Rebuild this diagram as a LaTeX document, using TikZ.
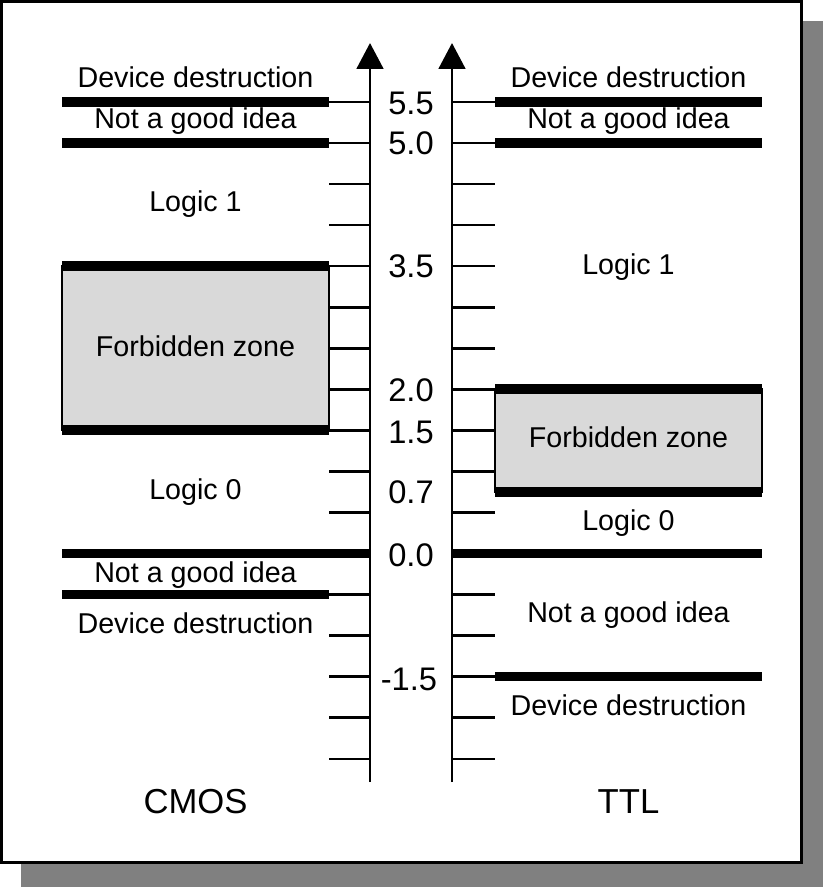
\documentclass[tikz,border=0pt]{standalone}
\usepackage{fontspec}
\setmainfont{Liberation Sans}
\usetikzlibrary{arrows.meta, positioning}

\begin{document}
\begin{tikzpicture}[
    x=0.75pt, y=-0.75pt,
    axis/.style={-{Triangle[width=20pt, length=19.5pt]}, line width=2.2pt},
    tick/.style={line width=1.9pt},
    bar/.style={line width=7pt},
    zone/.style={draw, line width=1.9pt, fill=gray!30},
    lbl/.style={anchor=base, inner sep=0pt, font=\fontsize{21.5}{24}\selectfont},
    val/.style={anchor=base, inner sep=0pt, font=\fontsize{24.5}{28}\selectfont},
    fam/.style={anchor=base, inner sep=0pt, font=\fontsize{26}{30}\selectfont}
]

\useasboundingbox (0,0) rectangle (823,887);
\fill[gray] (21,21) rectangle (823,887);
\draw[fill=white, line width=2.2pt] (1.5,1.5) rectangle (801.5,862.5);

\fill[zone] (62,266) rectangle (329,430);
\fill[zone] (495,389) rectangle (762,492);

\foreach \k in {0,...,16} {
    \draw[tick] (329,{102+41.05*\k}) -- (370,{102+41.05*\k});
    \draw[tick] (452,{102+41.05*\k}) -- (495,{102+41.05*\k});
}

\draw[bar] (62,102) -- (329,102);
\draw[bar] (62,143) -- (329,143);
\draw[bar] (62,266) -- (329,266);
\draw[bar] (62,430) -- (329,430);
\draw[bar] (62,553.6) -- (370,553.6);
\draw[bar] (62,594.6) -- (329,594.6);

\draw[bar] (495,102) -- (762,102);
\draw[bar] (495,143) -- (762,143);
\draw[bar] (495,389) -- (762,389);
\draw[bar] (495,492) -- (762,492);
\draw[bar] (452,553.6) -- (762,553.6);
\draw[bar] (495,676.7) -- (762,676.7);

\coordinate (cmosbot) at (370,782);
\coordinate (cmostop) at (370,43);
\coordinate (ttlbot) at (452,782);
\coordinate (ttltop) at (452,43);
\draw[axis] (cmosbot) -- (cmostop);
\draw[axis] (ttlbot) -- (ttltop);

\node (v55) [val] at (411,115) {5.5};
\node (v50) [val] at (411,155) {5.0};
\node (v35) [val] at (411,278) {3.5};
\node (v20) [val] at (411,401) {2.0};
\node (v15) [val] at (411,443) {1.5};
\node (v07) [val] at (411,503) {0.7};
\node (v00) [val] at (411,566) {0.0};
\node (vm15) [val] at (409,690) {-1.5};

\node (cdd) [lbl] at (195.5,88) {Device destruction};
\node (cng) [lbl] at (195.5,129) {Not a good idea};
\node (cl1) [lbl] at (195.5,212) {Logic 1};
\node (cfz) [lbl] at (195.5,356) {Forbidden zone};
\node (cl0) [lbl] at (195.5,499) {Logic 0};
\node (cngb) [lbl] at (195.5,582) {Not a good idea};
\node (cddb) [lbl] at (195.5,633) {Device destruction};

\node (tdd) [lbl] at (628.5,88) {Device destruction};
\node (tng) [lbl] at (628.5,129) {Not a good idea};
\node (tl1) [lbl] at (628.5,275) {Logic 1};
\node (tfz) [lbl] at (628.5,447) {Forbidden zone};
\node (tl0) [lbl] at (628.5,530) {Logic 0};
\node (tngb) [lbl] at (628.5,622) {Not a good idea};
\node (tddb) [lbl] at (628.5,715) {Device destruction};

\node (cmos) [fam] at (195.5,813) {CMOS};
\node (ttl) [fam] at (628.5,813) {TTL};

\end{tikzpicture}
\end{document}
